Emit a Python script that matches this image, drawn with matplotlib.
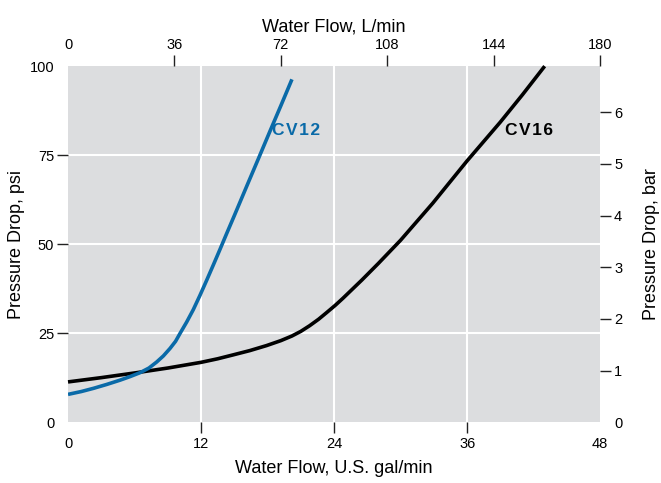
import numpy as np
import matplotlib.pyplot as plt

plt.rcParams['font.family'] = ['Liberation Sans', 'DejaVu Sans']

# flow in US gal/min, pressure drop in psi
cv12_gpm = [0, 1.2, 2.3, 3.5, 4.7, 5.6, 6.5, 7.3, 8.0, 8.6, 9.2, 9.7, 10.1, 10.7,
            11.3, 11.9, 12.5, 13.1, 13.65, 14.3, 15, 16.15, 17.2, 18.2, 19.2, 20.2]
cv12_psi = [7.8, 8.6, 9.5, 10.6, 11.8, 12.8, 13.9, 15.2, 16.9, 18.6, 20.7, 22.7, 24.9, 28.1,
            31.6, 35.6, 39.8, 44.1, 48.1, 52.9, 58.0, 66.5, 74.2, 81.6, 88.9, 96.3]
cv16_gpm = [0, 3, 6.2, 9, 12, 13.5, 14.9, 16.4, 17.9, 19.2, 20.2, 21, 21.8, 22.6, 23.3, 24.1, 24.8,
            26.5, 28, 30, 32.9, 36, 39, 41, 43.0]
cv16_psi = [11.3, 12.5, 13.9, 15.2, 16.8, 17.8, 18.9, 20.1, 21.5, 22.9, 24.2, 25.5, 27.1, 28.9, 30.7, 32.8, 34.8,
            39.9, 44.6, 51.1, 61.5, 73.4, 84.3, 92.0, 100]

gpm_ticks = [0, 12, 24, 36, 48]
psi_ticks = [0, 25, 50, 75, 100]
lpm_ticks = [0, 36, 72, 108, 144, 180]
bar_ticks = [0, 1, 2, 3, 4, 5, 6]

blue = '#0a6aa8'
grey = '#dcdddf'

fig = plt.figure(figsize=(6.61, 4.83), dpi=100)
ax = fig.add_axes([0.1029, 0.126, 0.805, 0.737])
ax.set_facecolor(grey)
for s in ax.spines.values():
    s.set_visible(False)

ax.set_xlim(0, 48)
ax.set_ylim(0, 100)
for g in [12, 24, 36]:
    ax.axvline(g, color='white', lw=1.5, zorder=1)
for p in [25, 50, 75]:
    ax.axhline(p, color='white', lw=1.5, zorder=1)

ax.plot(cv16_gpm, cv16_psi, color='black', lw=2.6, zorder=3, clip_on=False,
        solid_capstyle='butt', solid_joinstyle='round')
ax.plot(cv12_gpm, cv12_psi, color=blue, lw=2.6, zorder=3,
        solid_capstyle='butt', solid_joinstyle='round')

sp = '\u200a'
ax.text(18.4, 82, sp.join('CV12'), color=blue, fontsize=12.5, fontweight='bold', va='center')
ax.text(39.4, 82, sp.join('CV16'), color='black', fontsize=12.5, fontweight='bold', va='center')

tick_kw = dict(length=8, width=1, labelsize=10.5, pad=2, color='#222222')
ax.set_xticks(gpm_ticks)
ax.set_yticks(psi_ticks)
ax.tick_params(axis='both', **tick_kw)
ax.tick_params(axis='x', pad=3)
for i in [0, -1]:
    ax.xaxis.get_major_ticks()[i].tick1line.set_visible(False)
    ax.yaxis.get_major_ticks()[i].tick1line.set_visible(False)
ax.set_xlabel('Water Flow, U.S. gal/min', fontsize=13, labelpad=6)
ax.set_ylabel('Pressure Drop, psi', fontsize=13, labelpad=3)

top = ax.secondary_xaxis('top', functions=(lambda x: x * 3.75, lambda x: x / 3.75))
top.set_xticks(lpm_ticks)
top.tick_params(**tick_kw)
top.xaxis.get_major_ticks()[0].tick2line.set_visible(False)
top.set_xlabel('Water Flow, L/min', fontsize=13, labelpad=5)
for s in top.spines.values():
    s.set_visible(False)

right = ax.secondary_yaxis('right', functions=(lambda p: p / 14.5038, lambda b: b * 14.5038))
right.set_yticks(bar_ticks)
right.tick_params(**tick_kw)
right.yaxis.get_major_ticks()[0].tick2line.set_visible(False)
right.set_ylabel('Pressure Drop, bar', fontsize=13, labelpad=15)
for s in right.spines.values():
    s.set_visible(False)

fig.savefig('out.png', dpi=100)
